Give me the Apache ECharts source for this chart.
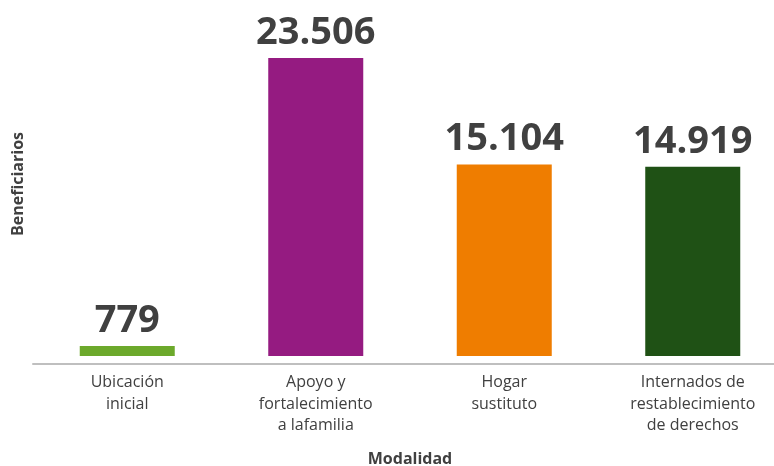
<!DOCTYPE html>
<html>
<head>
<meta charset="utf-8">
<script src="https://cdn.jsdelivr.net/npm/echarts@6/dist/echarts.min.js"></script>
<style>html,body{margin:0;padding:0;background:#fff}#c{width:774px;height:466px}</style>
</head>
<body>
<div id="c"></div>
<script>
var categories = ['Ubicación\ninicial', 'Apoyo y\nfortalecimiento\na lafamilia', 'Hogar\nsustituto', 'Internados de\nrestablecimiento\nde derechos'];
var values = [779, 23506, 15104, 14919];
var labels = ['779', '23.506', '15.104', '14.919'];
var colors = ['#6CA92B', '#951B81', '#EF7D00', '#1F5115'];

var chart = echarts.init(document.getElementById('c'));
chart.setOption({
  animation: false,
  grid: { left: 33, right: -13, top: 39, bottom: 110, outerBoundsMode: 'none', containLabel: false },
  xAxis: {
    type: 'category',
    data: categories,
    offset: 8,
    axisLine: { onZero: false, lineStyle: { color: '#BFBFBF', width: 2 } },
    axisTick: { show: false },
    axisLabel: { color: '#404040', fontSize: 16, lineHeight: 21.5, margin: 8, fontFamily: 'Open Sans', interval: 0 },
    name: 'Modalidad',
    nameLocation: 'middle',
    nameGap: 87,
    nameTextStyle: { color: '#404040', fontSize: 16, fontWeight: 'bold', fontFamily: 'Open Sans' }
  },
  yAxis: {
    type: 'value', min: 0, max: 25000, show: false
  },
  graphic: [{
    type: 'text', x: 18, y: 184, rotation: Math.PI / 2,
    style: { text: 'Beneficiarios', align: 'center', verticalAlign: 'middle', fill: '#404040', font: 'bold 16px "Open Sans"' }
  }],
  series: [{
    type: 'bar',
    barWidth: 95,
    data: values.map(function (v, i) { return { value: v, itemStyle: { color: colors[i] } }; }),
    label: {
      show: true, position: 'top', distance: 6,
      formatter: function (p) { return labels[p.dataIndex]; },
      color: '#404040', fontSize: 38, fontWeight: 'bold', fontFamily: 'Open Sans'
    }
  }]
});
</script>
</body>
</html>
